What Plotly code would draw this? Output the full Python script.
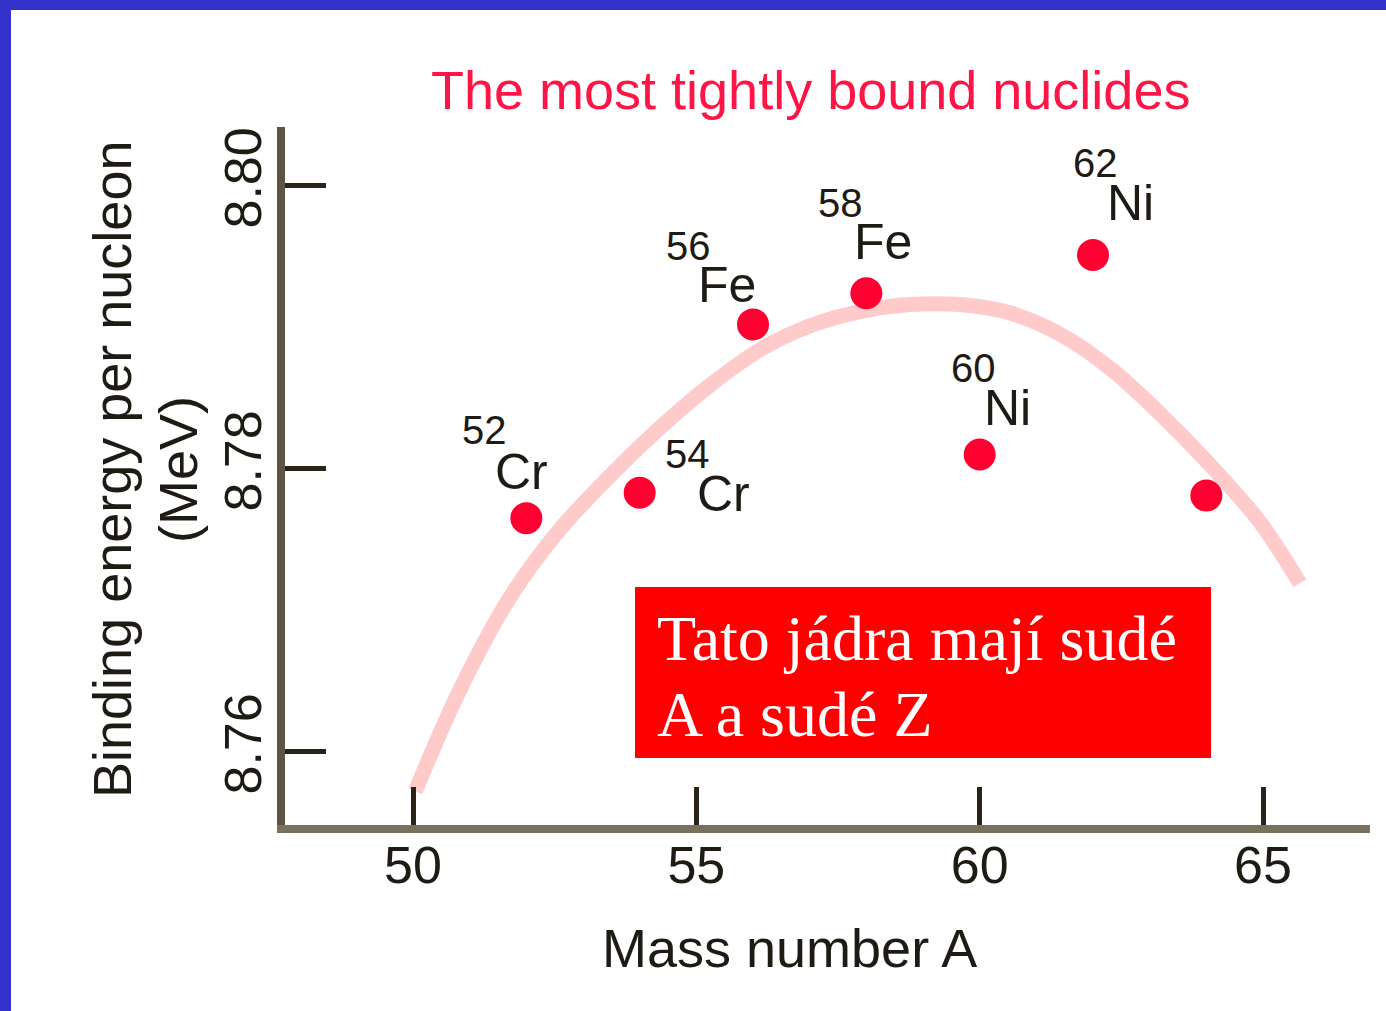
import plotly.graph_objects as go

# nuclides (mass number A, binding energy per nucleon in MeV)
mass_numbers = [52, 54, 56, 58, 60, 62, 64]
binding_energy = [8.7765, 8.7783, 8.7902, 8.7924, 8.7810, 8.7951, 8.7781]
elements = ["Cr", "Cr", "Fe", "Fe", "Ni", "Ni", ""]

# smooth trend curve
curve_a = [50.04, 50.83, 51.71, 52.59, 53.48, 54.36, 55.24, 56.12, 57.01, 57.89,
           58.77, 59.65, 60.54, 61.42, 62.30, 63.18, 64.06, 64.95, 65.65]
curve_be = [8.7572, 8.7644, 8.7709, 8.7757, 8.7795, 8.7829, 8.7859, 8.7884, 8.7901, 8.7911,
            8.7916, 8.7916, 8.7910, 8.7895, 8.7871, 8.7839, 8.7803, 8.7762, 8.7719]

x_ticks = [50, 55, 60, 65]
y_ticks = [8.76, 8.78, 8.80]
y_tick_text = ["8.76", "8.78", "8.80"]

title_text = "The most tightly bound nuclides"
x_title = "Mass number A"
y_title = ["Binding energy per nucleon", "(MeV)"]
box_lines = ["Tato jádra mají sudé", "A a sudé Z"]

# layout in pixels
L, R, T, B = 285, 1370, 127, 825
W, H = 1386, 1011
PW, PH = R - L, B - T


def px_x(p):
    return (p - L) / PW


def px_y(p):
    return (B - p) / PH


SANS = "Liberation Sans, Arial, Helvetica, sans-serif"
SERIF = "Liberation Serif, Times New Roman, serif"
INK = "#1e1a14"

fig = go.Figure()

fig.add_trace(go.Scatter(
    x=curve_a, y=curve_be, mode="lines",
    line=dict(color="#ffcaca", width=15, shape="spline", smoothing=1.0),
    hoverinfo="skip", showlegend=False
))

fig.add_trace(go.Scatter(
    x=mass_numbers, y=binding_energy, mode="markers",
    marker=dict(color="#ff0030", size=32, line=dict(width=0)),
    showlegend=False
))

# label offsets (px) for mass number and element symbol, relative to the dot
mass_off = [(-42, -88), (48, -39), (-65, -78), (-26, -90), (-6, -87), (2, -92), None]
sym_off = [(-5, -46), (84, 1), (-26, -39), (17, -51), (28, -47), (37, -52), None]

annotations = []
for a, e, el, mo, so in zip(mass_numbers, binding_energy, elements, mass_off, sym_off):
    if not el:
        continue
    annotations.append(dict(
        x=a, y=e, xref="x", yref="y", text=str(a), showarrow=False,
        xanchor="center", yanchor="middle",
        xshift=mo[0], yshift=-mo[1], font=dict(family=SANS, size=40, color=INK)
    ))
    annotations.append(dict(
        x=a, y=e, xref="x", yref="y", text=el, showarrow=False,
        xanchor="center", yanchor="middle",
        xshift=so[0], yshift=-so[1], font=dict(family=SANS, size=50, color=INK)
    ))


def paper_text(cx, cy, text, **kw):
    d = dict(x=px_x(cx), y=px_y(cy), xref="paper", yref="paper", text=text,
             showarrow=False, xanchor="center", yanchor="middle")
    d.update(kw)
    return d


annotations.append(paper_text(810, 90, title_text,
                              font=dict(family=SANS, size=54, color="#ff1446")))
annotations.append(paper_text(789, 948, x_title,
                              font=dict(family=SANS, size=54, color=INK)))
for cx, line in zip([112, 178], y_title):
    annotations.append(paper_text(cx, 470, line, textangle=-90,
                                  font=dict(family=SANS, size=54, color=INK)))

# red note box
fig.add_shape(type="rect", xref="paper", yref="paper",
              x0=px_x(635), x1=px_x(1211), y0=px_y(758), y1=px_y(587),
              fillcolor="#ff0000", line=dict(width=0), layer="above")
for cy, line in zip([638, 714], box_lines):
    annotations.append(paper_text(655, cy, line, xanchor="left",
                                  font=dict(family=SERIF, size=64, color="#ffffff")))

# blue frame on top and left
fig.add_shape(type="rect", xref="paper", yref="paper",
              x0=px_x(0), x1=px_x(W), y0=px_y(10), y1=px_y(0),
              fillcolor="#3333cc", line=dict(width=0))
fig.add_shape(type="rect", xref="paper", yref="paper",
              x0=px_x(0), x1=px_x(11), y0=px_y(H), y1=px_y(0),
              fillcolor="#3333cc", line=dict(width=0))

fig.update_layout(
    width=W, height=H,
    margin=dict(l=L, r=W - R, t=T, b=H - B, pad=0),
    paper_bgcolor="white", plot_bgcolor="white",
    annotations=annotations,
    showlegend=False,
    xaxis=dict(
        range=[47.741, 66.888], tickvals=x_ticks, ticks="inside", ticklen=38,
        tickwidth=5, tickcolor="#2a2418", showline=True, linewidth=8,
        linecolor="#7a705e", showgrid=False, zeroline=False,
        ticklabelstandoff=-12,
        tickfont=dict(family=SANS, size=52, color=INK)
    ),
    yaxis=dict(
        range=[8.75482, 8.80415], tickvals=y_ticks, ticktext=y_tick_text,
        ticks="inside", ticklen=41, tickwidth=5, tickcolor="#2a2418",
        showline=True, linewidth=8, linecolor="#5c5444", showgrid=False,
        zeroline=False, tickangle=-90, ticklabelstandoff=-5,
        tickfont=dict(family=SANS, size=52, color=INK)
    ),
)

fig.write_html("out.html", config={"displayModeBar": False},
               post_script="document.body.style.margin='0';")
